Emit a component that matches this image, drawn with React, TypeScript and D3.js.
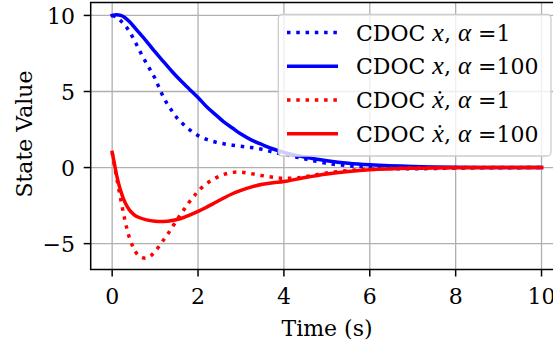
import React from "react";
import * as d3 from "d3";

const tBlueDot = [0, 0.1, 0.2, 0.3, 0.4, 0.5, 0.6, 0.7, 0.8, 0.9, 1.0, 1.1, 1.2, 1.3, 1.4, 1.5, 1.6, 1.8, 2.0, 2.2, 2.4, 2.6, 2.8, 3.0, 3.2, 3.4, 3.6, 3.8, 4.0, 4.3, 4.6, 5.0, 5.5, 6.0, 6.5, 7.0, 7.5, 8, 9, 10];
const vBlueDot = [10, 9.9, 9.65, 9.35, 8.95, 8.45, 7.9, 7.35, 6.85, 6.35, 5.85, 5.2, 4.6, 4.1, 3.7, 3.3, 3.0, 2.5, 2.1, 1.85, 1.68, 1.56, 1.47, 1.4, 1.33, 1.25, 1.12, 0.98, 0.88, 0.68, 0.5, 0.28, 0.12, 0.02, -0.06, -0.08, -0.06, -0.03, -0.01, 0];

const tBlueSolid = [0, 0.1, 0.2, 0.3, 0.4, 0.6, 0.8, 1.0, 1.2, 1.4, 1.6, 1.8, 2.0, 2.2, 2.4, 2.6, 2.8, 3.0, 3.25, 3.5, 3.75, 4.0, 4.5, 5.0, 5.5, 6, 7, 8, 9, 10];
const vBlueSolid = [10.0, 10.05, 10.0, 9.85, 9.6, 8.95, 8.3, 7.6, 6.95, 6.3, 5.7, 5.15, 4.6, 4.0, 3.5, 3.0, 2.6, 2.2, 1.8, 1.5, 1.22, 1.0, 0.68, 0.45, 0.28, 0.18, 0.07, 0.02, 0.01, 0];

const tRedDot = [0, 0.1, 0.2, 0.3, 0.4, 0.5, 0.6, 0.7, 0.8, 0.9, 1.0, 1.1, 1.2, 1.3, 1.4, 1.5, 1.6, 1.7, 1.8, 1.9, 2.0, 2.2, 2.4, 2.6, 2.8, 3.0, 3.2, 3.4, 3.6, 3.8, 4.0, 4.3, 4.6, 5.0, 5.5, 6, 7, 8, 10];
const vRedDot = [1.0, -0.6, -2.1, -3.5, -4.6, -5.3, -5.75, -5.92, -5.95, -5.8, -5.5, -5.15, -4.75, -4.35, -3.9, -3.5, -3.05, -2.65, -2.25, -1.9, -1.55, -1.05, -0.7, -0.45, -0.32, -0.3, -0.38, -0.48, -0.58, -0.66, -0.7, -0.68, -0.55, -0.35, -0.2, -0.1, -0.03, 0, 0];

const tRedSolid = [0, 0.05, 0.1, 0.2, 0.3, 0.4, 0.5, 0.6, 0.8, 1.0, 1.2, 1.4, 1.6, 1.8, 2.0, 2.2, 2.4, 2.6, 2.8, 3.0, 3.25, 3.5, 3.75, 4.0, 4.5, 5.0, 5.5, 6, 7, 8, 10];
const vRedSolid = [1.0, 0.3, -0.45, -1.55, -2.3, -2.78, -3.07, -3.25, -3.44, -3.53, -3.55, -3.48, -3.35, -3.12, -2.88, -2.6, -2.3, -2.0, -1.72, -1.5, -1.27, -1.1, -1.0, -0.92, -0.65, -0.42, -0.26, -0.15, -0.05, -0.01, 0];

const xTicks = [0, 2, 4, 6, 8, 10];
const yTicks = [-5, 0, 5, 10];

const seriesLabels = ["x", "x", "\u1E8B", "\u1E8B"];
const seriesAlpha = ["1", "100", "1", "100"];

const FONT = "'DejaVu Serif', serif";
const MATH = "'Liberation Serif', serif";
const FS = 22;

export default function App() {
  const left = 90.7, right = 563, top = 2.5, bottom = 269.5;
  const x = d3.scaleLinear().domain([-0.5, 10.5]).range([left, right]);
  const y = d3.scaleLinear().domain([-6.7, 10.85]).range([bottom, top]);
  const line = d3.line<[number, number]>().x(d => x(d[0])).y(d => y(d[1])).curve(d3.curveCatmullRom.alpha(0.5));
  const zip = (t: number[], v: number[]) => t.map((tt, i) => [tt, v[i]] as [number, number]);

  const series = [
    { d: zip(tBlueDot, vBlueDot), color: "#0000ff", dotted: true },
    { d: zip(tBlueSolid, vBlueSolid), color: "#0000ff", dotted: false },
    { d: zip(tRedDot, vRedDot), color: "#ff0000", dotted: true },
    { d: zip(tRedSolid, vRedSolid), color: "#ff0000", dotted: false },
  ];
  const lw = 3.5;
  const dash = `${lw} ${lw * 1.65}`;
  const legRows = [32.5, 66.3, 100, 133.7];

  return (
    <svg width={553} height={342} style={{ position: "absolute", left: 0, top: 0, background: "#fff" }} fontFamily={FONT}>
      <defs>
        <clipPath id="clip"><rect x={left} y={top} width={right - left} height={bottom - top} /></clipPath>
      </defs>
      <rect width={553} height={342} fill="#fff" />
      {xTicks.map(t => <line key={"gx" + t} x1={x(t)} x2={x(t)} y1={top} y2={bottom} stroke="#b0b0b0" strokeWidth={1.3} />)}
      {yTicks.map(t => <line key={"gy" + t} x1={left} x2={right} y1={y(t)} y2={y(t)} stroke="#b0b0b0" strokeWidth={1.3} />)}
      <g clipPath="url(#clip)">
        {series.map((s, i) => (
          <path key={i} d={line(s.d) || ""} fill="none" stroke={s.color} strokeWidth={lw}
            strokeDasharray={s.dotted ? dash : undefined} strokeLinecap={s.dotted ? "butt" : "square"} strokeLinejoin="round" />
        ))}
      </g>
      <rect x={left} y={top} width={right - left} height={bottom - top} fill="none" stroke="#000" strokeWidth={1.5} />
      {xTicks.map(t => (
        <g key={"xt" + t}>
          <line x1={x(t)} x2={x(t)} y1={bottom} y2={bottom + 7} stroke="#000" strokeWidth={1.5} />
          <text x={x(t)} y={303.5} textAnchor="middle" fontSize={FS}>{t}</text>
        </g>
      ))}
      {yTicks.map(t => (
        <g key={"yt" + t}>
          <line x1={left - 7} x2={left} y1={y(t)} y2={y(t)} stroke="#000" strokeWidth={1.5} />
          <text x={75} y={y(t) + 8.3} textAnchor="end" fontSize={FS}>{t < 0 ? "\u2212" + Math.abs(t) : t}</text>
        </g>
      ))}
      <text x={327} y={335.5} textAnchor="middle" fontSize={FS}>Time (s)</text>
      <text transform="translate(32,134) rotate(-90)" textAnchor="middle" fontSize={FS}>State Value</text>
      <rect x={278.3} y={14.5} width={272.7} height={141.5} rx={4} fill="#fff" fillOpacity={0.8} stroke="#cccccc" strokeWidth={1.3} />
      {series.map((s, i) => (
        <g key={"lg" + i}>
          <line x1={287} x2={338} y1={legRows[i]} y2={legRows[i]} stroke={s.color} strokeWidth={lw}
            strokeDasharray={s.dotted ? dash : undefined} strokeLinecap="butt" />
          <text x={356} y={legRows[i] + 8} fontSize={FS}>
            CDOC <tspan fontFamily={MATH} fontStyle="italic" fontSize={FS + 4}>{seriesLabels[i]}</tspan>, <tspan fontFamily={MATH} fontStyle="italic" fontSize={FS + 3}>α</tspan> =
            {seriesAlpha[i]}
          </text>
        </g>
      ))}
    </svg>
  );
}
